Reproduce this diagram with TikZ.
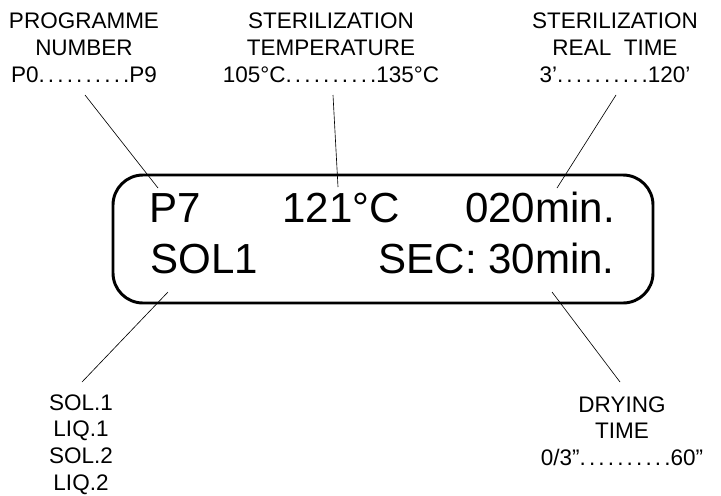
\documentclass[tikz,border=0pt]{standalone}
\usepackage{fontspec}
\setmainfont{Liberation Sans}
\usetikzlibrary{positioning}
\newcommand{\dotrun}{{\addfontfeature{LetterSpace=14}..........}}

\begin{document}
\begin{tikzpicture}[x=0.025cm, y=-0.025cm,
    lbl/.style={inner sep=0, anchor=north, align=center, font=\fontsize{16}{19}\selectfont},
    lcd/.style={inner sep=0, font=\fontsize{29.9}{32}\selectfont},
    lead/.style={line width=0.45pt}]
  \useasboundingbox (0,0) rectangle (721,495);

  % Display panel
  \draw[line width=2.1pt, rounded corners=0.75cm] (113,175) rectangle (653,303);
  \node[lcd, anchor=base west] (prog) at (149,222) {P7};
  \node[lcd, anchor=base west] (temp) at (282,222) {121°C};
  \node[lcd, anchor=base east] (stime) at (615,222) {020min.};
  \node[lcd, anchor=base west] (cycle) at (150,273) {SOL1};
  \node[lcd, anchor=base east] (dry) at (615,273) {SEC: 30min.};

  % Labels
  \node[lbl] (proglbl) at (84,13) {PROGRAMME\\NUMBER\\P0\dotrun P9};
  \node[lbl] (templbl) at (331,13) {STERILIZATION\\TEMPERATURE\\105°C\dotrun 135°C};
  \node[lbl] (stimelbl) at (615,13) {STERILIZATION\\REAL\ \ TIME\\3’\dotrun 120’};
  \node[lbl] (cyclelbl) at (81,394) {SOL.1\\LIQ.1\\SOL.2\\LIQ.2};
  \node[lbl] (drylbl) at (622,396) {DRYING\\TIME\\0/3”\dotrun 60”};

  % Leader lines
  \coordinate (p1) at (85,95);   \coordinate (p2) at (158,188);
  \coordinate (t1) at (333,95);  \coordinate (t2) at (338,187);
  \coordinate (s1) at (616,95);  \coordinate (s2) at (557,188);
  \coordinate (c1) at (168,292); \coordinate (c2) at (82,382);
  \coordinate (d1) at (552,292); \coordinate (d2) at (620,382);
  \draw[lead] (p1) -- (p2);
  \draw[lead] (t1) -- (t2);
  \draw[lead] (s1) -- (s2);
  \draw[lead] (c1) -- (c2);
  \draw[lead] (d1) -- (d2);
\end{tikzpicture}
\end{document}
